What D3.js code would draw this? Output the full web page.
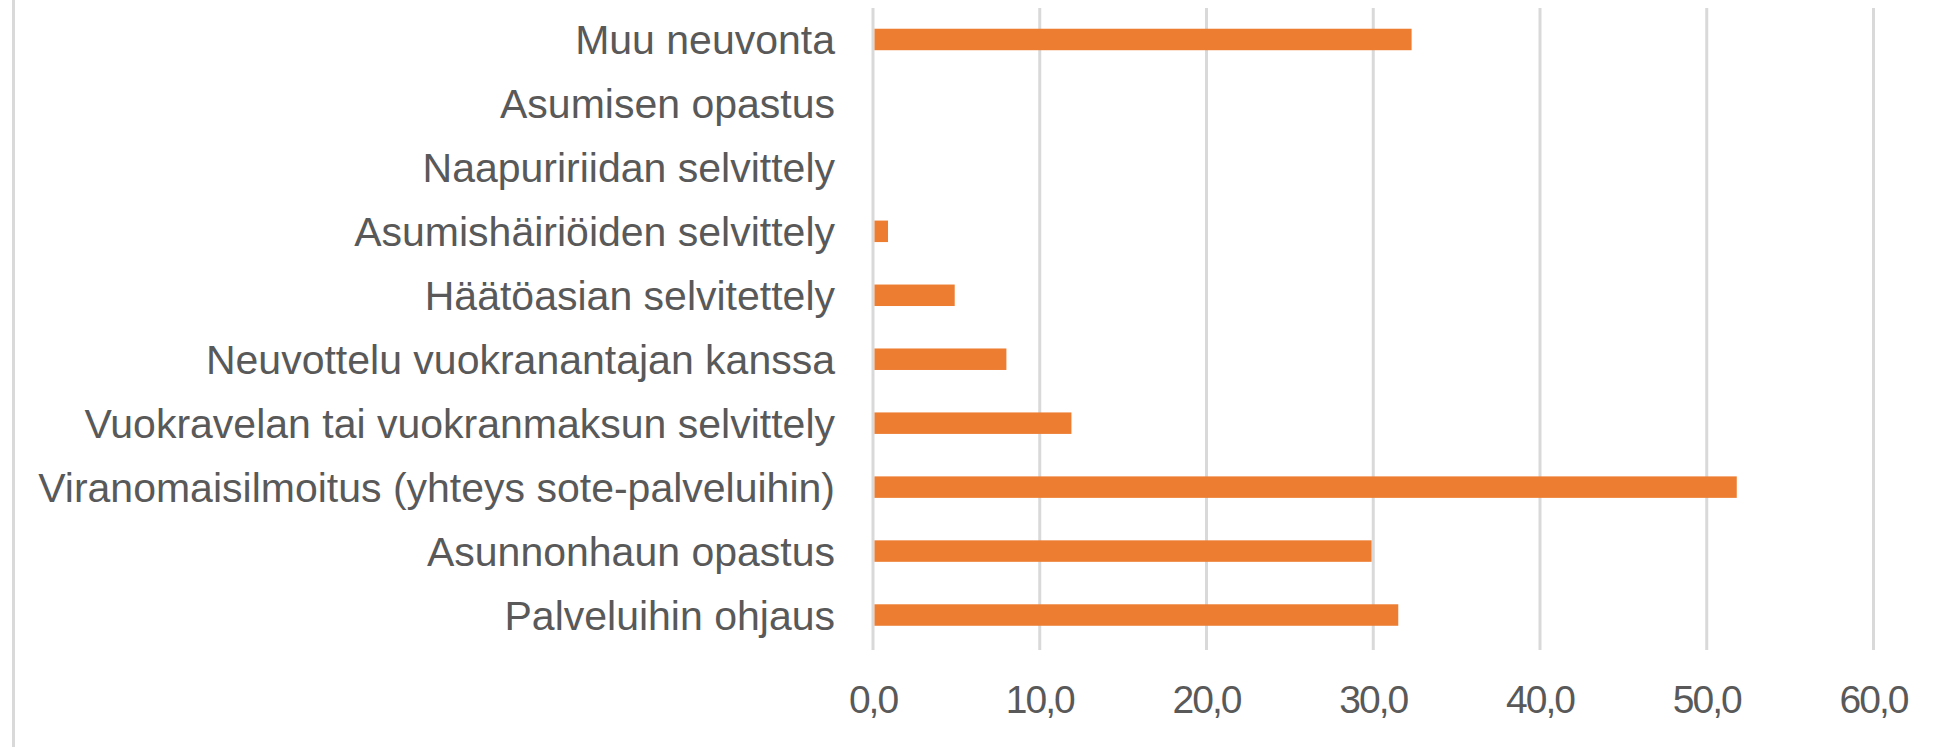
<!DOCTYPE html>
<html>
<head>
<meta charset="utf-8">
<script src="https://cdn.jsdelivr.net/npm/d3@7"></script>
<style>
  html, body { margin: 0; padding: 0; background: #fff; }
  svg { display: block; }
</style>
</head>
<body>
<svg id="chart" width="1954" height="747"></svg>
<script>
const categories = [
  "Muu neuvonta",
  "Asumisen opastus",
  "Naapuririidan selvittely",
  "Asumishäiriöiden selvittely",
  "Häätöasian selvitettely",
  "Neuvottelu vuokranantajan kanssa",
  "Vuokravelan tai vuokranmaksun selvittely",
  "Viranomaisilmoitus (yhteys sote-palveluihin)",
  "Asunnonhaun opastus",
  "Palveluihin ohjaus"
];
const values = [32.3, 0, 0, 0.9, 4.9, 8.0, 11.9, 51.8, 29.9, 31.5];
const tickValues = [0, 10, 20, 30, 40, 50, 60];

(function () {
  const svg = d3.select("#chart");
  const W = 1954, H = 747;
  const mLeft = 873, mRight = 1873.5, mTop = 7.5, mBottom = 647;

  const x = d3.scaleLinear().domain([0, 60]).range([mLeft, mRight]);
  const y = d3.scaleBand().domain(categories).range([mTop, mBottom])
    .paddingInner(0.664).paddingOuter(0.332);

  // outer frame (left edge visible)
  svg.append("line")
    .attr("x1", 13.5).attr("x2", 13.5).attr("y1", 0).attr("y2", H)
    .attr("stroke", "#d9d9d9").attr("stroke-width", 3);

  // gridlines
  svg.append("g")
    .selectAll("line").data(tickValues).join("line")
    .attr("x1", d => x(d)).attr("x2", d => x(d))
    .attr("y1", 8).attr("y2", 650)
    .attr("stroke", "#d9d9d9").attr("stroke-width", 3);

  // bars
  svg.append("g")
    .selectAll("rect").data(categories.map((c, i) => ({c, v: values[i]})).filter(d => d.v > 0))
    .join("rect")
    .attr("x", x(0) + 1.5)
    .attr("y", d => y(d.c))
    .attr("width", d => x(d.v) - x(0) - 1.5)
    .attr("height", y.bandwidth())
    .attr("fill", "#ed7d31");

  // category labels
  svg.append("g")
    .selectAll("text").data(categories).join("text")
    .attr("x", 835)
    .attr("y", d => y(d) + y.bandwidth() / 2 + 15)
    .attr("text-anchor", "end")
    .attr("font-family", "'Liberation Sans', Arial, sans-serif")
    .attr("font-size", 41)
    .attr("fill", "#595959")
    .text(d => d);

  // x tick labels
  const fmt = d => d3.format(".1f")(d).replace(".", ",");
  svg.append("g")
    .selectAll("text").data(tickValues).join("text")
    .attr("x", d => x(d))
    .attr("y", 713)
    .attr("text-anchor", "middle")
    .attr("font-family", "'Liberation Sans', Arial, sans-serif")
    .attr("font-size", 39)
    .attr("letter-spacing", -2)
    .attr("fill", "#595959")
    .text(fmt);
})();
</script>
</body>
</html>
